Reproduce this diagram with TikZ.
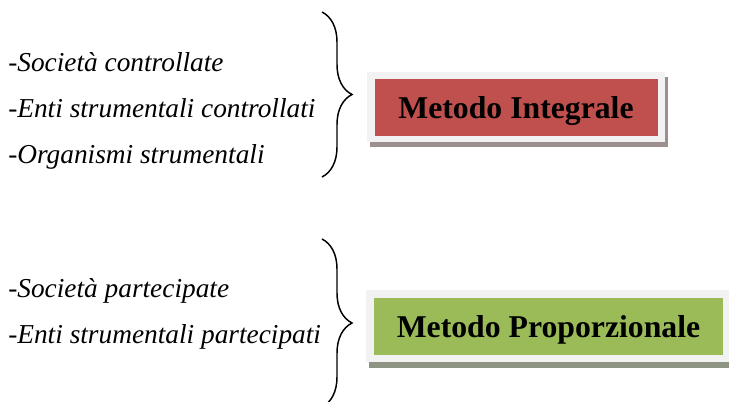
\documentclass[tikz,border=0pt]{standalone}
\usepackage{fontspec}
\setmainfont{Liberation Serif}
\usetikzlibrary{decorations.pathreplacing,shadows}

\definecolor{rosso}{HTML}{C0504D}
\definecolor{verde}{HTML}{9BBB59}
\definecolor{cornice}{HTML}{F2F2F2}
\definecolor{ombrarossa}{HTML}{9C8F8F}
\definecolor{ombraverde}{HTML}{8E9484}

\tikzset{
  voce/.style={anchor=base west,inner sep=0pt,font=\fontsize{20.5}{24}\selectfont\itshape},
  graffa/.style={decorate,decoration={brace,amplitude=22.5pt},line width=1.1pt},
  telaio/.style={fill=cornice,minimum height=52.5pt,inner sep=0pt},
  metodo/.style={minimum height=42.75pt,inner sep=0pt,text depth=0pt,font=\fontsize{23.8}{28}\selectfont\bfseries}
}

\begin{document}
\begin{tikzpicture}[x=0.75pt,y=-0.75pt]
	  \useasboundingbox (0,0) rectangle (729,401);

	  % enti consolidati integralmente
	  \foreach \t[count=\i] in {Società controllate,Enti strumentali controllati,Organismi strumentali}
		\node[voce] (c\i) at (8,{71+46*(\i-1)}) {-\t};
	  \coordinate (g1a) at (322,12);
	  \coordinate (g1b) at (322,177);
	  \draw[graffa] (g1a)--(g1b);
	  \node[telaio,minimum width=223.5pt,
		drop shadow={shadow xshift=2.25pt,shadow yshift=-3.75pt,fill=ombrarossa,opacity=1}]
		(t1) at (516,107) {};
	  \node[metodo,fill=rosso,minimum width=212.25pt] (integrale) at (t1.center) {Metodo Integrale\hspace{6pt}};

	  % enti consolidati proporzionalmente
	  \foreach \t[count=\i] in {Società partecipate,Enti strumentali partecipati}
		\node[voce] (p\i) at (8,{297+46*(\i-1)}) {-\t};
	  \coordinate (g2a) at (322,239);
	  \coordinate (g2b) at (322,407);
	  \draw[graffa] (g2a)--(g2b);
	  \node[telaio,minimum width=272.25pt,minimum height=54pt,
		drop shadow={shadow xshift=2.25pt,shadow yshift=-4.5pt,fill=ombraverde,opacity=1}]
		(t2) at (547.5,326) {};
	  \node[metodo,fill=verde,minimum width=261.75pt] (proporzionale) at (548.5,326.5) {Metodo Proporzionale\hspace{4pt}};
	\end{tikzpicture}
\end{document}
